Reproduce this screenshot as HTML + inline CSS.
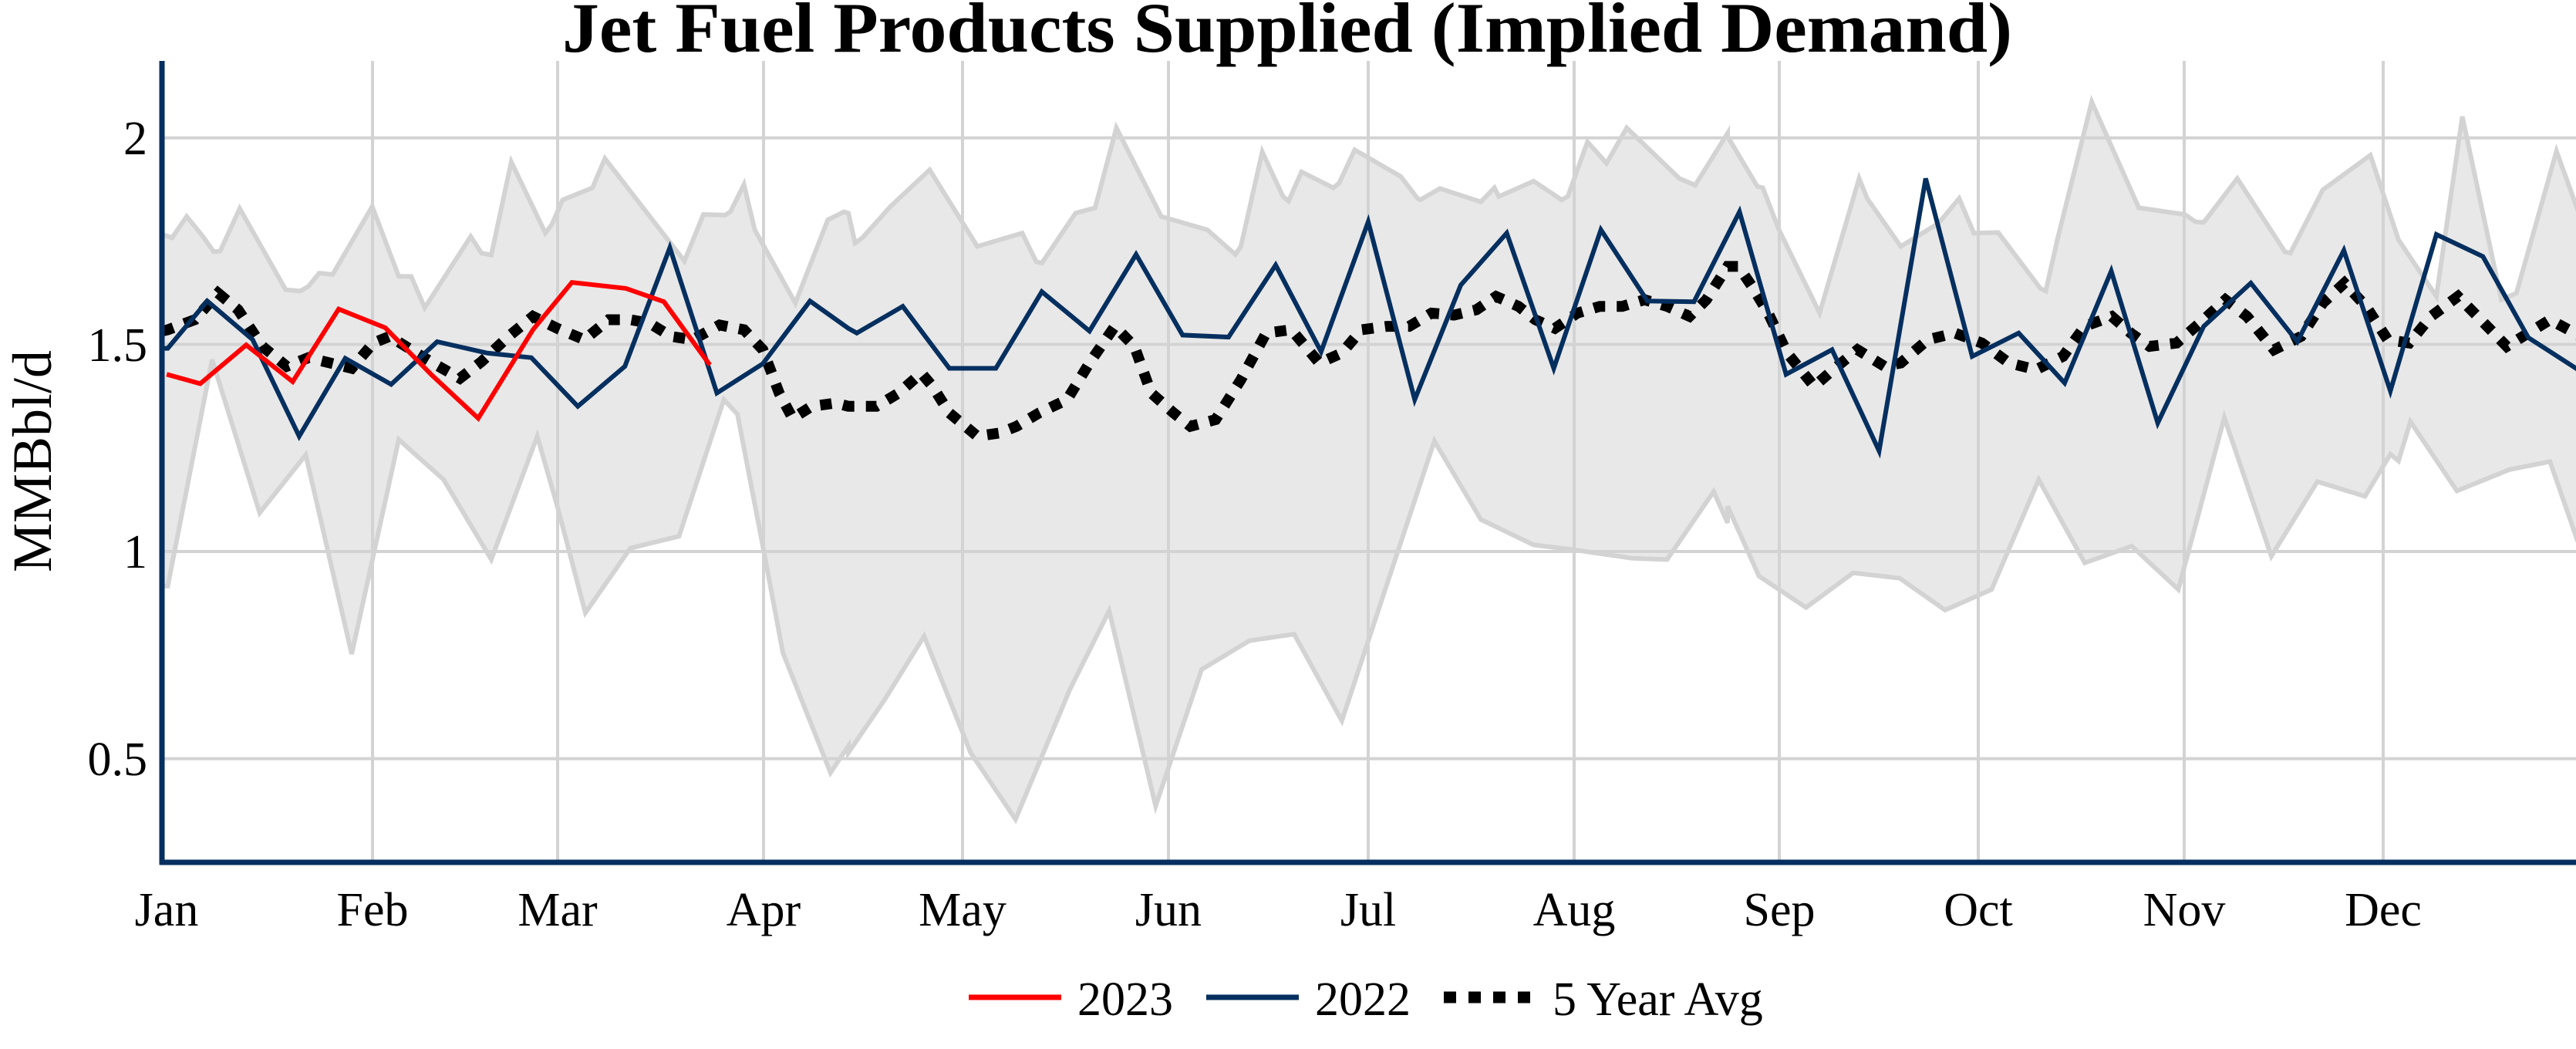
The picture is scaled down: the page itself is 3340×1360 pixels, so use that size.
<!DOCTYPE html>
<html><head><meta charset="utf-8">
<style>
html,body{margin:0;padding:0;background:#fff;}
svg{display:block;}
text{font-family:"Liberation Serif","Times New Roman",serif;fill:#000;}
</style></head>
<body>
<svg id="s" width="3340" height="1360" viewBox="0 0 3340 1360" xmlns="http://www.w3.org/2000/svg">
<defs><clipPath id="pc"><rect x="210" y="60" width="3130" height="1058"/></clipPath></defs>
<g id="fill" clip-path="url(#pc)"></g>
<g id="grid" stroke="#d3d3d3" stroke-width="4">
<line x1="210" y1="178.8" x2="3340" y2="178.8"/>
<line x1="210" y1="446.5" x2="3340" y2="446.5"/>
<line x1="210" y1="715" x2="3340" y2="715"/>
<line x1="210" y1="983.6" x2="3340" y2="983.6"/>
<line x1="483" y1="79" x2="483" y2="1118"/>
<line x1="723" y1="79" x2="723" y2="1118"/>
<line x1="990" y1="79" x2="990" y2="1118"/>
<line x1="1248" y1="79" x2="1248" y2="1118"/>
<line x1="1515" y1="79" x2="1515" y2="1118"/>
<line x1="1774" y1="79" x2="1774" y2="1118"/>
<line x1="2041" y1="79" x2="2041" y2="1118"/>
<line x1="2307" y1="79" x2="2307" y2="1118"/>
<line x1="2565" y1="79" x2="2565" y2="1118"/>
<line x1="2832" y1="79" x2="2832" y2="1118"/>
<line x1="3090" y1="79" x2="3090" y2="1118"/>
</g>
<g id="series" clip-path="url(#pc)" fill="none" stroke-linejoin="miter"></g>
<line x1="210" y1="79" x2="210" y2="1121" stroke="#052f5f" stroke-width="7"/>
<line x1="207" y1="1118" x2="3340" y2="1118" stroke="#052f5f" stroke-width="7"/>
<text x="1669" y="67" font-size="92" font-weight="bold" text-anchor="middle" textLength="1880" lengthAdjust="spacingAndGlyphs">Jet Fuel Products Supplied (Implied Demand)</text>
<g font-size="62" text-anchor="end">
<text x="191" y="200">2</text>
<text x="191" y="468">1.5</text>
<text x="191" y="736">1</text>
<text x="191" y="1005">0.5</text>
</g>
<g font-size="62" text-anchor="middle">
<text x="216" y="1200">Jan</text>
<text x="483" y="1200">Feb</text>
<text x="723" y="1200">Mar</text>
<text x="990" y="1200">Apr</text>
<text x="1248" y="1200">May</text>
<text x="1515" y="1200">Jun</text>
<text x="1774" y="1200">Jul</text>
<text x="2041" y="1200">Aug</text>
<text x="2307" y="1200">Sep</text>
<text x="2565" y="1200">Oct</text>
<text x="2832" y="1200">Nov</text>
<text x="3090" y="1200">Dec</text>
</g>
<text transform="translate(66,598) rotate(-90)" font-size="72" text-anchor="middle">MMBbl/d</text>
<line x1="1256" y1="1293" x2="1376" y2="1293" stroke="#ff0000" stroke-width="7"/>
<text x="1397" y="1316" font-size="62">2023</text>
<line x1="1564" y1="1293" x2="1684" y2="1293" stroke="#052f5f" stroke-width="7"/>
<text x="1705" y="1316" font-size="62">2022</text>
<line x1="1872" y1="1293" x2="1984" y2="1293" stroke="#000" stroke-width="15" stroke-dasharray="16 16"/>
<text x="2013" y="1316" font-size="62">5 Year Avg</text>
</svg>
<script>
(function(){
var NS="http://www.w3.org/2000/svg";
function c1(p){return [p[0]/1.4255,p[1]/1.158];}
function c3(p){return [1100+p[0]/1.3754,p[1]/1.158];}
function c2(p){return [2240+p[0]/1.4255,p[1]/1.158];}
function conv(a1,a3,a2){var r=[];a1.forEach(function(p){r.push(c1(p));});a3.forEach(function(p){r.push(c3(p));});a2.forEach(function(p){r.push(c2(p));});return r;}
var up=conv(
[[300,352],[318,357],[345,325],[375,355],[395,378],[407,377],[443,313],[528,435],[555,437],[570,430],[590,410],[615,412],[688,310],[737,415],[760,415],[785,462],[870,355],[890,380],[908,383],[945,243],[1008,350],[1020,337],[1040,300],[1095,282],[1118,238],[1265,392],[1300,322],[1340,323],[1350,318],[1375,277],[1395,345],[1470,455],[1530,330],[1560,318]],
[[0,320],[12,365],[25,357],[75,310],[145,255],[230,370],[310,350],[335,393],[345,395],[405,320],[440,312],[478,192],[558,325],[640,345],[690,382],[700,370],[738,228],[775,295],[785,302],[808,258],[865,282],[875,275],[903,225],[985,265],[1015,298],[1020,300],[1055,283],[1128,303],[1152,282],[1160,295],[1222,272],[1272,300],[1283,295],[1318,213],[1352,245],[1388,192],[1482,268],[1510,278],[1568,200]],
[[0,205],[55,280],[65,282],[95,345],[170,470],[243,268],[258,298],[320,370],[390,335],[428,298],[455,350],[500,349],[578,433],[588,437],[610,358],[673,153],[760,312],[845,322],[865,333],[880,334],[942,268],[1030,378],[1040,380],[1100,285],[1188,233],[1240,360],[1310,445],[1358,175],[1430,450],[1458,440],[1532,227],[1600,380]]);
var lo=conv(
[[300,880],[310,880],[392,540],[480,770],[565,683],[650,982],[737,660],[820,720],[908,840],[993,655],[1030,760],[1082,920],[1165,823],[1255,805],[1338,600],[1363,622],[1410,820],[1447,980],[1535,1160],[1568,1120]],
[[0,1130],[65,1050],[135,955],[218,1130],[298,1230],[395,1035],[465,917],[548,1210],[630,1005],[715,962],[795,952],[880,1082],[975,840],[1045,662],[1128,780],[1222,818],[1290,825],[1398,838],[1460,840],[1543,738],[1568,785]],
[[0,760],[58,865],[145,912],[232,860],[318,868],[402,916],[488,885],[575,720],[660,845],[747,820],[833,885],[918,627],[1005,835],[1090,723],[1178,745],[1225,682],[1240,692],[1262,633],[1348,737],[1445,705],[1520,693],[1600,880]]);
var n22=conv(
[[300,523],[310,523],[383,452],[467,510],[553,655],[638,538],[723,577],[808,513],[900,530],[982,537],[1068,610],[1155,550],[1238,372],[1325,590],[1410,546],[1497,452],[1568,493]],
[[15,500],[97,460],[180,553],[263,553],[345,438],[430,497],[513,382],[596,503],[678,506],[762,398],[843,528],[927,333],[1010,600],[1092,428],[1174,350],[1258,553],[1342,345],[1425,452],[1508,453]],
[[22,318],[108,562],[193,525],[280,677],[366,268],[452,535],[538,500],[623,575],[709,407],[795,635],[880,490],[967,425],[1053,513],[1139,376],[1225,587],[1310,352],[1396,385],[1480,507],[1620,580]]);
var avg=conv(
[[300,497],[310,495],[360,480],[403,440],[440,465],[485,520],[530,550],[570,537],[610,545],[650,553],[690,515],[720,505],[760,525],[800,545],[850,568],[890,543],[940,505],[985,475],[1030,493],[1080,510],[1125,480],[1165,480],[1200,485],[1240,505],[1280,510],[1330,488],[1375,495],[1410,525],[1440,590],[1465,628],[1500,610],[1545,605]],
[[0,610],[50,610],[90,590],[130,560],[150,580],[180,620],[230,655],[270,650],[300,640],[340,620],[390,600],[430,545],[475,490],[510,520],[540,590],[580,620],[610,640],[655,630],[700,570],[745,500],[790,495],[840,545],[880,530],[915,495],[960,490],[1000,490],[1040,470],[1080,473],[1120,465],[1155,445],[1195,460],[1225,480],[1260,493],[1300,470],[1340,460],[1380,460],[1420,450],[1460,460],[1500,475],[1530,450]],
[[0,400],[20,400],[45,430],[75,470],[110,530],[160,580],[195,555],[240,525],[290,550],[320,545],[370,510],[420,500],[470,515],[520,545],[570,555],[620,535],[660,490],[710,475],[745,500],[780,520],[830,515],[880,480],[920,450],[960,475],[1010,525],[1060,505],[1100,455],[1140,425],[1180,460],[1220,510],[1260,515],[1300,475],[1350,445],[1380,470],[1440,520],[1490,495],[1520,480],[1600,515]]);
var red=conv([[308,562],[370,576],[455,518],[541,573],[626,464],[712,492],[798,563],[884,628],[985,495],[1057,424],[1157,433],[1227,453],[1312,548]],[],[]);
function pts(a){return a.map(function(p){return p[0].toFixed(1)+","+p[1].toFixed(1);}).join(" ");}
var f=document.getElementById("fill");
var pg=document.createElementNS(NS,"polygon");
pg.setAttribute("points",pts(up.concat(lo.slice().reverse())));
pg.setAttribute("fill","#e8e8e8");f.appendChild(pg);
var g=document.getElementById("series");
function pl(a,col,w,dash){var e=document.createElementNS(NS,"polyline");e.setAttribute("points",pts(a));e.setAttribute("stroke",col);e.setAttribute("stroke-width",w);if(dash)e.setAttribute("stroke-dasharray",dash);g.appendChild(e);}
pl(up,"#d3d3d3",6);pl(lo,"#d3d3d3",6);
pl(avg,"#000",14,"15 15");
pl(n22,"#052f5f",6);
pl(red,"#ff0000",6);
})();
</script>
</body></html>
